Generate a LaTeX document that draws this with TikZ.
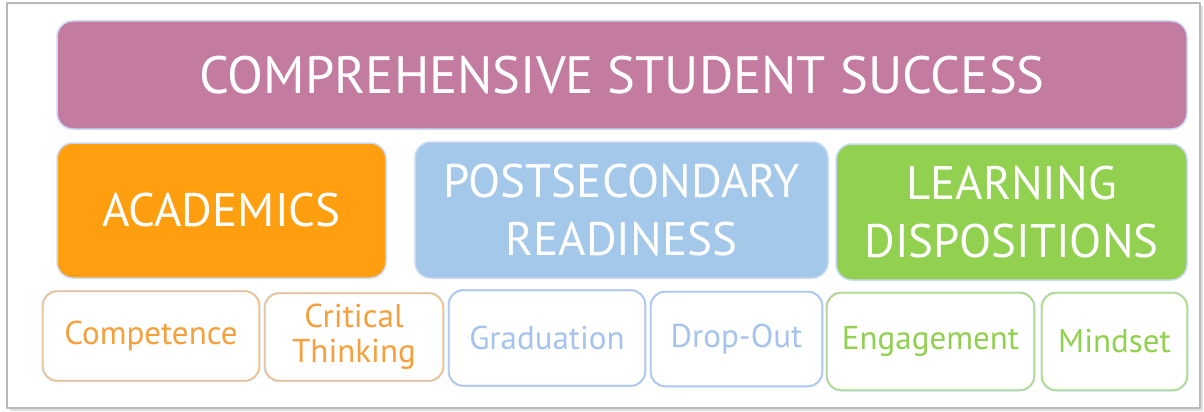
\documentclass[tikz,border=0pt]{standalone}
\usepackage{fontspec}
\setmainfont{PT Sans}
\definecolor{pinkbox}{HTML}{C47BA0}
\definecolor{orangebox}{HTML}{FF9E0F}
\definecolor{bluebox}{HTML}{A4C8EA}
\definecolor{greenbox}{HTML}{92D050}
\definecolor{glow}{HTML}{C9D9F5}
\definecolor{orangetxt}{HTML}{F5A03C}
\definecolor{bluetxt}{HTML}{A6C3EE}
\definecolor{greentxt}{HTML}{92D050}
\begin{document}
\begin{tikzpicture}[x=1pt, y=-1pt, line join=round, line cap=round,
	bigbox/.style={rectangle, rounded corners=16pt, draw=glow, line width=1.5pt, fill=#1, text=white, align=center, inner sep=0pt},
	smallbox/.style={rectangle, rounded corners=14pt, draw=#1, line width=1.3pt, fill=white, align=center, inner sep=0pt,
		preaction={draw=glow, line width=3pt}}]
	% Khung nen
	\useasboundingbox (0,0) rectangle (1204,412);
	\fill[gray!25] (10,6) rectangle (1203,411);
	\draw[gray!55, line width=1.5pt, fill=white] (7,3) rectangle (1200,408);
	
	% Hang tren
	\node[bigbox=pinkbox, minimum width=1130pt, minimum height=108pt, font=\fontsize{52.5}{60}\selectfont] (title) at (622,75) {COMPREHENSIVE STUDENT SUCCESS};
	
	% Hang giua
	\node[bigbox=orangebox, minimum width=329pt, minimum height=135pt, font=\fontsize{47}{58}\selectfont] (acad) at (221.5,210.5) {ACADEMICS};
	\node[bigbox=bluebox, minimum width=413pt, minimum height=136pt, font=\fontsize{47}{58}\selectfont] (post) at (621.5,210) {POSTSECONDARY\\READINESS};
	\node[bigbox=greenbox, minimum width=351pt, minimum height=136pt, font=\fontsize{47}{58}\selectfont] (learn) at (1011.5,212) {LEARNING\\DISPOSITIONS};
	
	% Hang duoi
	\node[smallbox=orangetxt!70, minimum width=216pt, minimum height=89pt, text=orangetxt, font=\fontsize{33}{35}\selectfont] (comp) at (151,336) {Competence};
	\node[smallbox=orangetxt!70, minimum width=178pt, minimum height=87pt, text=orangetxt, font=\fontsize{33}{35}\selectfont] (crit) at (354,337) {Critical\\Thinking};
	\node[smallbox=bluetxt, minimum width=196pt, minimum height=95pt, text=bluetxt, font=\fontsize{33}{35}\selectfont] (grad) at (547,338) {Graduation};
	\node[smallbox=bluetxt, minimum width=171pt, minimum height=94pt, text=bluetxt, font=\fontsize{33}{35}\selectfont] (drop) at (736.5,339) {Drop-Out};
	\node[smallbox=greentxt!80, minimum width=207pt, minimum height=97pt, text=greentxt, font=\fontsize{33}{35}\selectfont] (engage) at (930.5,341.5) {Engagement};
	\node[smallbox=greentxt!80, minimum width=145pt, minimum height=97pt, text=greentxt, font=\fontsize{33}{35}\selectfont] (mind) at (1114.5,341.5) {Mindset};
\end{tikzpicture}
\end{document}
